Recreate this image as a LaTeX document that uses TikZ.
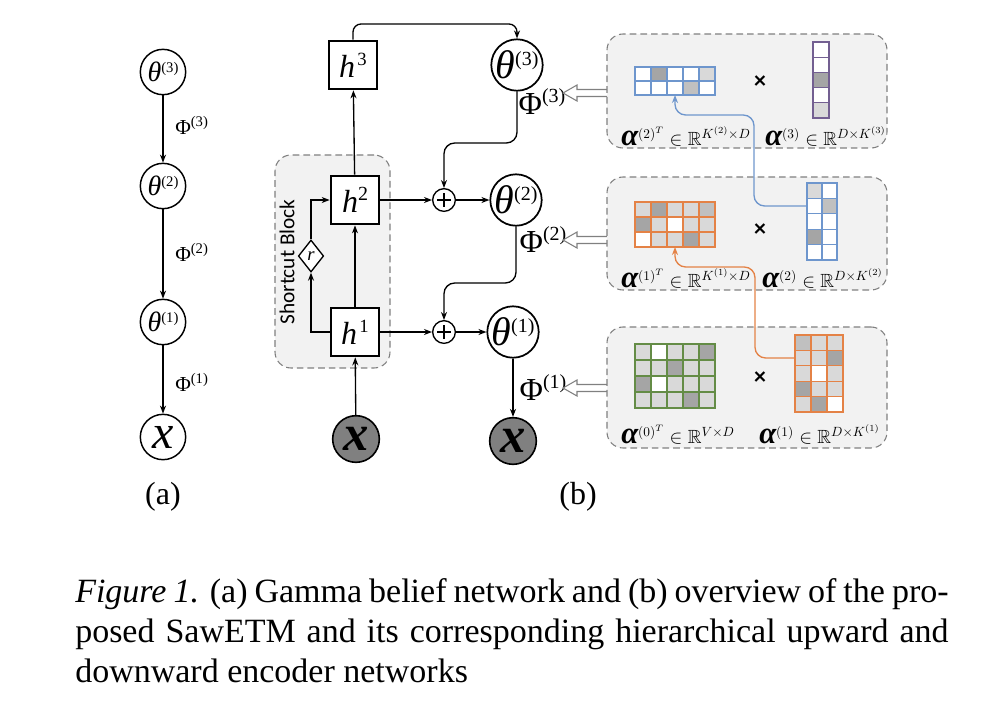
\documentclass[tikz,border=0pt]{standalone}
\usepackage{amssymb}
\usepackage{fontspec}
\setmainfont{Liberation Serif}
\newfontfamily\cfont{Carlito}
\usetikzlibrary{arrows.meta,shapes.geometric}
\definecolor{panelbg}{RGB}{242,242,242}
\definecolor{obsgray}{RGB}{128,128,128}
\definecolor{bl}{RGB}{110,150,205}
\definecolor{orng}{RGB}{228,130,70}
\definecolor{grn}{RGB}{100,140,70}
\definecolor{purp}{RGB}{115,95,145}
\definecolor{m0}{RGB}{255,255,255}
\definecolor{m1}{RGB}{217,217,217}
\definecolor{m2}{RGB}{192,192,192}
\definecolor{m3}{RGB}{165,165,165}
\newcommand{\fs}[1]{\fontsize{#1}{#1}\selectfont}
\newcommand{\gridmat}[6]{%
  \foreach \rw [count=\ri from 0] in {#6} {%
    \foreach \vv [count=\ci from 0] in \rw {%
      \filldraw[fill=m\vv, draw=#5, line width=1pt] ({#1+\ci*#3},{#2+\ri*#4}) rectangle ++(#3,#4);
    }
  }%
}
\newcommand{\hollowarr}[1]{%
  \draw[hollow] (563,#1) -- (577,{#1-8}) -- (577,{#1-3.5}) -- (612,{#1-3.5}) -- (612,{#1+3.5}) -- (577,{#1+3.5}) -- (577,{#1+8}) -- cycle;}
\begin{document}
\begin{tikzpicture}[x=0.75pt,y=-0.75pt,
  arr/.style={-{Stealth[length=6pt,width=4.5pt]}, line width=1pt},
  acirc/.style={circle, draw, line width=1.1pt, minimum size=34pt, inner sep=0pt},
  bcirc/.style={circle, draw, line width=1.3pt, minimum size=37.5pt, inner sep=0pt},
  gcirc/.style={circle, draw, fill=obsgray, line width=1.2pt, minimum size=35pt, inner sep=0pt},
  hbox/.style={rectangle, draw, line width=1.5pt, minimum size=36.5pt, fill=white, inner sep=0pt},
  plusc/.style={circle, draw, line width=1pt, minimum size=17pt, inner sep=0pt},
  rdiam/.style={diamond, draw, line width=1pt, minimum width=19pt, minimum height=24pt, inner sep=0pt, fill=white},
  panel/.style={draw=gray, dashed, dash pattern=on 5pt off 3pt, fill=panelbg, rounded corners=12pt, line width=0.8pt},
  hollow/.style={draw=gray, fill=white, line width=0.8pt},
  lbl/.style={inner sep=0pt}]
\useasboundingbox (0,0) rectangle (1004,708);

% ---------- (a) ----------
\node[acirc] (a3) at (163,72) {{\fs{21}\itshape θ}\raisebox{7pt}{\fs{11}(3)}};
\node[acirc] (a2) at (163,186) {{\fs{21}\itshape θ}\raisebox{7pt}{\fs{11}(2)}};
\node[acirc] (a1) at (163,322) {{\fs{21}\itshape θ}\raisebox{7pt}{\fs{11}(1)}};
\node[acirc] (ax) at (163,437) {\fs{36}\itshape x};
\draw[arr] (a3) -- (a2);
\draw[arr] (a2) -- (a1);
\draw[arr] (a1) -- (ax);
\node[lbl, anchor=west] (pa3) at (175,125) {{\fs{16}Φ}\raisebox{6pt}{\fs{11}(3)}};
\node[lbl, anchor=west] (pa2) at (175,252) {{\fs{16}Φ}\raisebox{6pt}{\fs{11}(2)}};
\node[lbl, anchor=west] (pa1) at (175,382) {{\fs{16}Φ}\raisebox{6pt}{\fs{11}(1)}};
\node[lbl] (la) at (163,497) {\fs{24}(a)};

% ---------- (b) ----------
\node[panel, minimum width=86.25pt, minimum height=159.75pt] (sb) at (332.5,261.5) {};
\node[lbl, rotate=90] (sbt) at (287,262) {\cfont\fs{16}Shortcut Block};

\node[hbox] (h3) at (353,65) {{\fs{24}\itshape h}\,\raisebox{9pt}{\fs{14}3}};
\node[hbox] (h2) at (355,200) {{\fs{24}\itshape h}\raisebox{9pt}{\fs{15}2}};
\node[hbox] (h1) at (355,332) {{\fs{24}\itshape h}\,\raisebox{9pt}{\fs{14}1}};
\node[rdiam] (r) at (311,256) {\fs{14}\itshape r};
\node[gcirc] (gx1) at (356,439) {\fs{38}\bfseries\itshape x};

\node[bcirc] (t3) at (517,65) {{\fs{30}\itshape θ}\raisebox{10pt}{\fs{15}(3)}};
\node[bcirc] (t2) at (516,200) {{\fs{30}\itshape θ}\raisebox{10pt}{\fs{15}(2)}};
\node[bcirc] (t1) at (513,332) {{\fs{30}\itshape θ}\raisebox{10pt}{\fs{15}(1)}};
\node[gcirc] (gx2) at (513,441) {\fs{38}\bfseries\itshape x};

\node[plusc] (p2) at (444,200) {};
\node[plusc] (p1) at (444,332) {};
\foreach \p in {p2,p1} {
  \draw[line width=1pt] ([xshift=-5pt]\p.center) -- ([xshift=5pt]\p.center);
  \draw[line width=1pt] ([yshift=-5pt]\p.center) -- ([yshift=5pt]\p.center);
}

\coordinate (ctop) at (430,24);
\coordinate (c3) at (480,143);
\coordinate (c2) at (480,283);

\draw[arr] (gx1) -- (h1);
\draw[arr] (h1) -- (h2);
\draw[arr] (h2) -- (h3);
\draw[arr, rounded corners=6pt] (h3.north) |- (ctop) -| (t3.north);
\draw[arr] (h2) -- (p2);
\draw[arr] (p2) -- (t2);
\draw[arr] (h1) -- (p1);
\draw[arr] (p1) -- (t1);
\draw[arr] (h1.west) -| (r.south);
\draw[arr] (r.north) |- (h2.west);
\draw[arr, rounded corners=8pt] (t3.south) |- (c3) -| (p2.north);
\draw[arr, rounded corners=8pt] (t2.south) |- (c2) -| (p1.north);
\draw[arr] (t1) -- (gx2);

\node[lbl] (pb3) at (542,102) {{\fs{24}Φ}\raisebox{9pt}{\fs{15}(3)}};
\node[lbl] (pb2) at (543,240) {{\fs{24}Φ}\raisebox{9pt}{\fs{15}(2)}};
\node[lbl] (pb1) at (543,388) {{\fs{24}Φ}\raisebox{9pt}{\fs{15}(1)}};
\node[lbl] (lb) at (578,497) {\fs{24}(b)};

\hollowarr{93}
\hollowarr{240}
\hollowarr{388}

% ---------- panels ----------
\node[panel, minimum width=210pt, minimum height=85.5pt] (P3) at (747,91) {};
\node[panel, minimum width=210pt, minimum height=84.75pt] (P2) at (747,233.5) {};
\node[panel, minimum width=210pt, minimum height=90.75pt] (P1) at (747,387.5) {};

\gridmat{635}{67}{16}{14}{bl}{{0,3,0,0,1},{0,0,0,2,0}}
\gridmat{813}{42}{16}{15.2}{purp}{{0},{0},{3},{0},{1}}
\gridmat{635}{202}{16}{15}{orng}{{1,3,1,1,2},{3,1,0,1,1},{0,1,1,3,1}}
\gridmat{807}{183}{15}{15.4}{bl}{{1,0},{0,2},{0,0},{3,0},{0,0}}
\gridmat{635}{344}{16}{16}{grn}{{1,0,1,1,3},{1,1,3,1,1},{3,0,1,1,1},{1,1,1,3,1}}
\gridmat{795}{335}{16}{15.4}{orng}{{2,1,1},{1,1,3},{1,0,1},{3,1,1},{1,3,0}}

\node[lbl] (x3) at (760,82) {\cfont\bfseries\fs{18}×};
\node[lbl] (x2) at (760,230) {\cfont\bfseries\fs{18}×};
\node[lbl] (x1) at (760,378) {\cfont\bfseries\fs{18}×};

\node[lbl, anchor=base west] (l3a) at (621,145) {{\fs{23}\bfseries\itshape α}{\fs{14.3}$^{(2)^{T}}\in\mathbb{R}^{K^{(2)}\times D}$}};
\node[lbl, anchor=base west] (l3b) at (765,145) {{\fs{23}\bfseries\itshape α}{\fs{14.3}$^{(3)}\in\mathbb{R}^{D\times K^{(3)}}$}};
\node[lbl, anchor=base west] (l2a) at (621,287) {{\fs{23}\bfseries\itshape α}{\fs{14.3}$^{(1)^{T}}\in\mathbb{R}^{K^{(1)}\times D}$}};
\node[lbl, anchor=base west] (l2b) at (762,287) {{\fs{23}\bfseries\itshape α}{\fs{14.3}$^{(2)}\in\mathbb{R}^{D\times K^{(2)}}$}};
\node[lbl, anchor=base west] (l1a) at (621,443) {{\fs{23}\bfseries\itshape α}{\fs{14.3}$^{(0)^{T}}\in\mathbb{R}^{V\times D}$}};
\node[lbl, anchor=base west] (l1b) at (759,443) {{\fs{23}\bfseries\itshape α}{\fs{14.3}$^{(1)}\in\mathbb{R}^{D\times K^{(1)}}$}};

\coordinate (bs) at (807,206);
\coordinate (bc) at (754,115);
\coordinate (be) at (675,95);
\coordinate (os) at (795,358);
\coordinate (oc) at (755,267);
\coordinate (oe) at (675,247);
\draw[arr, draw=bl, rounded corners=8pt] (bs) -| (bc) -| (be);
\draw[arr, draw=orng, rounded corners=8pt] (os) -| (oc) -| (oe);

% ---------- caption ----------
\node[lbl, anchor=base west] (cap1) at (75,602) {\fs{25.5}\makebox[655pt][s]{\textit{Figure 1.} (a) Gamma belief network and (b) overview of the pro-}};
\node[lbl, anchor=base west] (cap2) at (75,642) {\fs{25.5}\makebox[655pt][s]{posed SawETM and its corresponding hierarchical upward and}};
\node[lbl, anchor=base west] (cap3) at (75,682) {\fs{25.5}downward encoder networks};
\end{tikzpicture}
\end{document}
